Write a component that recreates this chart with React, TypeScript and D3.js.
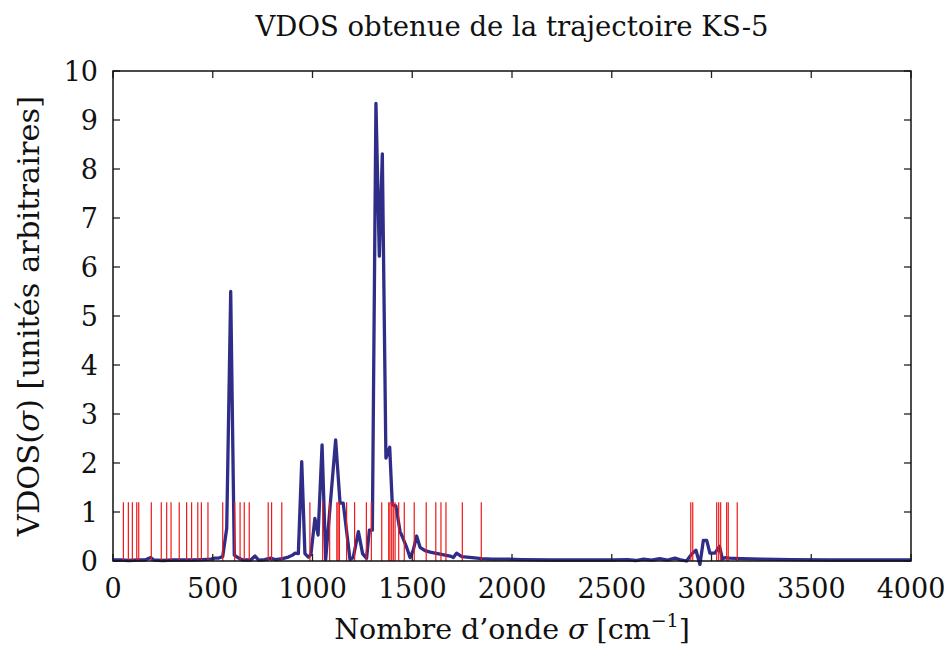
import React, { useEffect, useRef } from "react";
import * as d3 from "d3";

const wavenumbers = [0, 40, 80, 120, 160, 189, 205, 250, 300, 350, 400, 450, 490, 510, 530, 550, 570, 590, 608, 630, 650, 670, 690, 712, 730, 760, 790, 812, 850, 879, 900, 912, 929, 946, 962, 979, 992, 1012, 1028, 1048, 1066, 1116, 1138, 1154, 1188, 1204, 1230, 1251, 1271, 1285, 1300, 1318, 1335, 1350, 1368, 1387, 1400, 1418, 1439, 1450, 1470, 1489, 1505, 1522, 1539, 1564, 1590, 1614, 1640, 1664, 1690, 1706, 1722, 1748, 1800, 1848, 1900, 1965, 2050, 2200, 2400, 2500, 2580, 2620, 2660, 2700, 2740, 2780, 2817, 2840, 2875, 2900, 2922, 2942, 2959, 2976, 2992, 3017, 3040, 3055, 3068, 3090, 3150, 3250, 3400, 3600, 3800, 4000];
const vdos = [0.02, 0.02, 0.01, 0.02, 0.02, 0.07, 0.02, 0.01, 0.02, 0.02, 0.02, 0.03, 0.04, 0.06, 0.06, 0.09, 0.67, 5.5, 0.12, 0.06, 0.02, 0.02, 0.02, 0.1, 0.02, 0.03, 0.06, 0.03, 0.05, 0.08, 0.12, 0.16, 0.15, 2.03, 0.15, 0.08, 0.13, 0.87, 0.53, 2.37, 0.03, 2.47, 1.18, 1.18, 0.03, 0.07, 0.6, 0.15, 0.05, 0.63, 0.63, 9.34, 6.22, 8.31, 2.1, 2.32, 1.15, 1.12, 0.6, 0.5, 0.3, 0.07, 0.22, 0.51, 0.28, 0.21, 0.18, 0.16, 0.14, 0.12, 0.1, 0.07, 0.16, 0.09, 0.07, 0.05, 0.04, 0.04, 0.03, 0.02, 0.02, 0.02, 0.03, 0.01, 0.04, 0.02, 0.05, 0.02, 0.06, 0.03, 0.0, 0.14, 0.22, -0.07, 0.42, 0.42, 0.16, 0.16, 0.3, 0.04, 0.07, 0.06, 0.05, 0.04, 0.03, 0.02, 0.02, 0.02];
const harmonicFreqs = [52, 77, 97, 119, 129, 192, 242, 269, 291, 332, 369, 394, 425, 443, 476, 550, 610, 637, 658, 683, 778, 795, 846, 987, 1051, 1086, 1122, 1128, 1135, 1171, 1211, 1270, 1295, 1347, 1382, 1388, 1397, 1405, 1414, 1432, 1460, 1510, 1570, 1618, 1644, 1669, 1751, 1846, 2896, 2906, 3026, 3036, 3046, 3076, 3084, 3129];
const harmonicHeight = 1.2;
const xTicks = [0, 500, 1000, 1500, 2000, 2500, 3000, 3500, 4000];
const yTicks = [0, 1, 2, 3, 4, 5, 6, 7, 8, 9, 10];
const titleText = "VDOS obtenue de la trajectoire KS-5";

const FONT = "DejaVu Serif, Liberation Serif, serif";

export default function App() {
  const ref = useRef<SVGSVGElement>(null);
  useEffect(() => {
    const W = 944, H = 645;
    const m = { l: 113, t: 71, r: 33, b: 84 };
    const svg = d3.select(ref.current);
    svg.selectAll("*").remove();
    const x = d3.scaleLinear().domain([0, 4000]).range([m.l, W - m.r]);
    const y = d3.scaleLinear().domain([0, 10]).range([H - m.b, m.t]);

    svg.append("text").attr("x", (m.l + W - m.r) / 2).attr("y", 36)
      .attr("text-anchor", "middle").style("font-family", FONT).style("font-size", "27.5px").attr("fill", "#111")
      .text(titleText);

    const data = wavenumbers.map((w, i) => [w, vdos[i]] as [number, number]);
    const line = d3.line<[number, number]>().x(d => x(d[0])).y(d => y(d[1]));
    svg.append("path").datum(data).attr("d", line).attr("fill", "none")
      .attr("stroke", "#2f2d88").attr("stroke-width", 3.3).attr("stroke-linejoin", "round");

    svg.append("g").selectAll("line").data(harmonicFreqs).join("line")
      .attr("x1", d => x(d)).attr("x2", d => x(d))
      .attr("y1", y(0)).attr("y2", y(harmonicHeight))
      .attr("stroke", "#f01818").attr("stroke-width", 1.2);

    const g = svg.append("g");
    const tl = 7;
    xTicks.forEach(t => {
      g.append("line").attr("x1", x(t)).attr("x2", x(t)).attr("y1", y(0)).attr("y2", y(0) - tl).attr("stroke", "#222").attr("stroke-width", 1.3);
      g.append("line").attr("x1", x(t)).attr("x2", x(t)).attr("y1", y(10)).attr("y2", y(10) + tl).attr("stroke", "#222").attr("stroke-width", 1.3);
      g.append("text").attr("x", x(t)).attr("y", 598).attr("text-anchor", "middle")
        .style("font-family", FONT).style("font-size", "27px").attr("fill", "#111").text(String(t));
    });
    yTicks.forEach(t => {
      g.append("line").attr("x1", x(0)).attr("x2", x(0) + tl).attr("y1", y(t)).attr("y2", y(t)).attr("stroke", "#222").attr("stroke-width", 1.3);
      g.append("line").attr("x1", x(4000)).attr("x2", x(4000) - tl).attr("y1", y(t)).attr("y2", y(t)).attr("stroke", "#222").attr("stroke-width", 1.3);
      g.append("text").attr("x", 98).attr("y", y(t) + 10).attr("text-anchor", "end")
        .style("font-family", FONT).style("font-size", "27px").attr("fill", "#111").text(String(t));
    });
    g.append("rect").attr("x", x(0)).attr("y", y(10)).attr("width", x(4000) - x(0)).attr("height", y(0) - y(10))
      .attr("fill", "none").attr("stroke", "#111").attr("stroke-width", 1.5);

    const xl = svg.append("text").attr("x", (m.l + W - m.r) / 2).attr("y", 639).attr("text-anchor", "middle")
      .style("font-family", FONT).style("font-size", "28.5px").attr("fill", "#111");
    xl.append("tspan").text("Nombre d\u2019onde ");
    xl.append("tspan").attr("font-style", "italic").text("\u03C3");
    xl.append("tspan").text(" [cm");
    xl.append("tspan").style("font-size", "19px").attr("dy", -12).text("\u22121");
    xl.append("tspan").attr("dy", 12).text("]");

    const yl = svg.append("text").attr("transform", `translate(39,${(y(0) + y(10)) / 2}) rotate(-90)`)
      .attr("text-anchor", "middle").style("font-family", FONT).style("font-size", "30.5px").attr("fill", "#111");
    yl.append("tspan").text("VDOS(");
    yl.append("tspan").attr("font-style", "italic").text("\u03C3");
    yl.append("tspan").text(") [unit\u00E9s arbitraires]");
  }, []);
  return <svg ref={ref} width={944} height={645} style={{ position: "absolute", left: 0, top: 0, background: "#fff" }} />;
}
